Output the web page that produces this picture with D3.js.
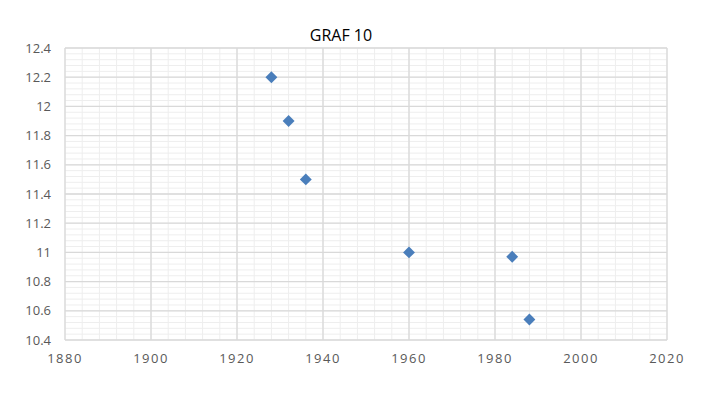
<!DOCTYPE html>
<html><head><meta charset="utf-8">
<script src="https://cdn.jsdelivr.net/npm/d3@7"></script>
<style>body{margin:0;background:#fff}svg{display:block}</style>
</head><body>
<svg id="c" width="710" height="394"></svg>
<script>
const title = "GRAF 10";
const years = [1928, 1932, 1936, 1960, 1984, 1988];
const values = [12.2, 11.9, 11.5, 11.0, 10.97, 10.54];
const xTicks = [1880, 1900, 1920, 1940, 1960, 1980, 2000, 2020];
const yTicks = [10.4, 10.6, 10.8, 11, 11.2, 11.4, 11.6, 11.8, 12, 12.2, 12.4];

const svg = d3.select("#c");
const x = d3.scaleLinear().domain([1880, 2020]).range([65, 667]);
const y = d3.scaleLinear().domain([10.4, 12.4]).range([340, 48]);

const xMinor = d3.range(1880, 2020.001, 4);
const yMinor = d3.range(0, 51).map(i => 10.4 + i * 0.04);

const g = svg.append("g");
g.selectAll(".vm").data(xMinor).join("line")
  .attr("x1", d => x(d)).attr("x2", d => x(d)).attr("y1", y(12.4)).attr("y2", y(10.4))
  .attr("stroke", "#eeeeee").attr("stroke-width", 1);
g.selectAll(".hm").data(yMinor).join("line")
  .attr("y1", d => y(d)).attr("y2", d => y(d)).attr("x1", x(1880)).attr("x2", x(2020))
  .attr("stroke", "#eeeeee").attr("stroke-width", 1);
g.selectAll(".vM").data(xTicks).join("line")
  .attr("x1", d => x(d)).attr("x2", d => x(d)).attr("y1", y(12.4)).attr("y2", y(10.4))
  .attr("stroke", "#d9d9d9").attr("stroke-width", 1.3);
g.selectAll(".hM").data(yTicks).join("line")
  .attr("y1", d => y(d)).attr("y2", d => y(d)).attr("x1", x(1880)).attr("x2", x(2020))
  .attr("stroke", "#d9d9d9").attr("stroke-width", 1.3);

const font = "Open Sans, Liberation Sans, sans-serif";
svg.append("g").selectAll("text").data(yTicks).join("text")
  .attr("x", 51).attr("y", d => y(d)).attr("dy", "0.35em")
  .attr("text-anchor", "end").attr("font-family", font).attr("font-size", 13)
  .attr("fill", "#595959").text(d => d);
svg.append("g").selectAll("text").data(xTicks).join("text")
  .attr("x", d => x(d)).attr("y", 358).attr("dy", "0.35em")
  .attr("text-anchor", "middle").attr("font-family", font).attr("font-size", 13)
  .attr("letter-spacing", "1.5px")
  .attr("fill", "#595959").text(d => d);

svg.append("text").attr("x", 341).attr("y", 35).attr("dy", "0.35em")
  .attr("text-anchor", "middle").attr("font-family", font).attr("font-size", 16)
  .attr("fill", "#000").text(title);

const sym = d3.symbol().type(d3.symbolDiamond2).size(90);
svg.append("g").selectAll("path").data(years.map((d, i) => [d, values[i]])).join("path")
  .attr("transform", d => `translate(${x(d[0])},${y(d[1])})`)
  .attr("d", sym).attr("fill", "#4a7ebb");
</script>
</body></html>
